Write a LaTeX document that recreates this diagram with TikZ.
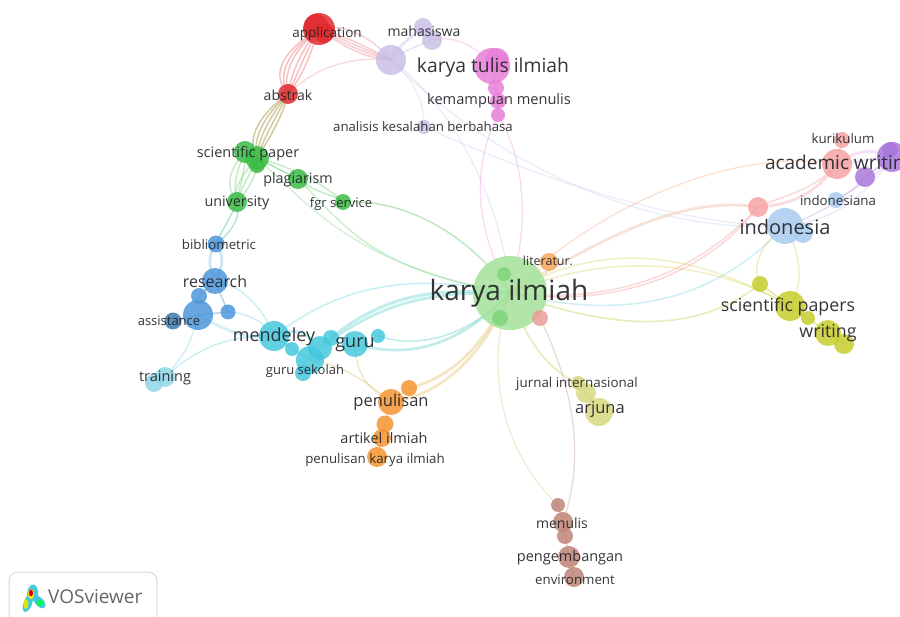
\documentclass[tikz,border=0pt]{standalone}
\usepackage{fontspec}
\setmainfont{Open Sans}
\usetikzlibrary{backgrounds}
\definecolor{cRed}{HTML}{E02B2F}
\definecolor{cLav}{HTML}{C9BEE6}
\definecolor{cMag}{HTML}{E77FD8}
\definecolor{cGrn}{HTML}{3CBB45}
\definecolor{cKar}{HTML}{A4E29A}
\definecolor{cBlu}{HTML}{4C97DA}
\definecolor{cCya}{HTML}{45C8DC}
\definecolor{cSky}{HTML}{8FD6E6}
\definecolor{cOrg}{HTML}{F39431}
\definecolor{cPnk}{HTML}{F4A3A3}
\definecolor{cPur}{HTML}{A878DC}
\definecolor{cLbl}{HTML}{A9CCEE}
\definecolor{cYel}{HTML}{C6CC2C}
\definecolor{cPal}{HTML}{D8D880}
\definecolor{cBrn}{HTML}{C08478}
\definecolor{cTxt}{HTML}{242428}
\tikzset{
  bub/.style={circle,draw=none,inner sep=0pt,fill opacity=.85},
  lab/.style={text=cTxt,inner sep=0pt,text opacity=.92,yshift=-.8pt},
  lnk/.style={line width=1.5pt,draw opacity=.42,line cap=round},
  thk/.style={lnk,line width=2.8pt,draw opacity=.38},
  fnt/.style={lnk,line width=1.3pt,draw opacity=.3},
}
\newcommand{\bb}[5]{\node[bub,fill=#5,minimum size=#4*2pt] (#1) at (#2,#3) {};}
\newcommand{\lb}[5]{\node[lab,font=\fontsize{#4}{#4}\selectfont] (#1) at (#2,#3) {#5};}
\begin{document}
\begin{tikzpicture}[x=1pt,y=-1pt]
\useasboundingbox (0,0) rectangle (900,617);
\clip (0,0) rectangle (900,617);
% bubbles
\bb{app}{319}{29}{16}{cRed}
\bb{apb}{316}{26}{12}{cRed}
\bb{apc}{324}{33}{10}{cRed}
\bb{abs}{288}{94}{10}{cRed}
\bb{lav}{391}{60}{15}{cLav}
\bb{mah}{423}{27}{9}{cLav}
\bb{mab}{432}{40}{10}{cLav}
\bb{ana}{424}{127}{7}{cLav}
\bb{ktl}{492}{66}{18}{cMag}
\bb{ktb}{497}{60}{12}{cMag}
\bb{mga}{496}{88}{8}{cMag}
\bb{kem}{498}{101}{8}{cMag}
\bb{mgb}{498}{115}{7}{cMag}
\bb{spa}{245}{152}{11}{cGrn}
\bb{spb}{257}{158}{12}{cGrn}
\bb{spc}{257}{165}{8}{cGrn}
\bb{plg}{298}{179}{10}{cGrn}
\bb{fgr}{343}{202}{8}{cGrn}
\bb{uni}{237}{202}{10}{cGrn}
\bb{bib}{216}{244}{8.5}{cBlu}
\bb{res}{215}{281}{13}{cBlu}
\bb{bla}{199}{296}{8}{cBlu}
\bb{blb}{198}{315}{15}{cBlu}
\bb{asi}{173}{321}{8.5}{cBlu!80!black}
\bb{blc}{228}{312}{7.5}{cBlu}
\bb{men}{274}{336}{15}{cCya}
\bb{cya}{292}{349}{7}{cCya}
\bb{cyb}{310}{360}{14}{cCya}
\bb{cyc}{320}{348}{12}{cCya}
\bb{cyd}{331}{338}{8}{cCya}
\bb{gse}{303}{373}{8}{cCya}
\bb{gur}{355}{344}{13}{cCya}
\bb{cye}{378}{336}{7}{cCya}
\bb{pen}{391}{402}{13}{cOrg}
\bb{ora}{409}{388}{8}{cOrg}
\bb{orb}{385}{424}{8.5}{cOrg}
\bb{art}{382}{438}{9}{cOrg}
\bb{pki}{377}{457}{10}{cOrg}
\bb{trn}{165}{377}{10}{cSky}
\bb{trb}{154}{383}{9}{cSky}
\bb{kur}{842}{140}{8}{cPnk}
\bb{aca}{837}{164}{15}{cPnk}
\bb{pur}{892}{157}{15}{cPur}
\bb{pub}{890}{150}{8}{cPur}
\bb{prb}{865}{177}{10}{cPur}
\bb{ina}{836}{200}{8}{cLbl}
\bb{pnk}{758}{207}{10}{cPnk}
\bb{ind}{785}{226}{18}{cLbl}
\bb{inb}{803}{233}{10}{cLbl}
\bb{yla}{760}{284}{8}{cYel}
\bb{scp}{790}{306}{15}{cYel}
\bb{ylb}{808}{318}{7}{cYel}
\bb{wri}{828}{333}{13}{cYel}
\bb{ylc}{844}{344}{10}{cYel}
\bb{kar}{510}{293}{37}{cKar}
\bb{kin}{504}{274}{7}{cGrn!35!cKar}
\bb{kib}{500}{318}{8}{cGrn!35!cKar}
\bb{lit}{549}{262}{9}{cOrg!80!white}
\bb{pkr}{540}{318}{8}{cPnk!80!cBrn}
\bb{jur}{578}{383}{7}{cPal}
\bb{jub}{586}{393}{10}{cPal}
\bb{arj}{599}{412}{14}{cPal}
\bb{mna}{558}{505}{7}{cBrn}
\bb{mnl}{563}{522}{10}{cBrn}
\bb{mnb}{565}{536}{8}{cBrn}
\bb{pgb}{569}{557}{11}{cBrn}
\bb{env}{574}{577}{10}{cBrn}
% edges
\begin{pgfonlayer}{background}
\foreach \d in {-22,-14,-7,4,12,20}{
  \draw[lnk,cRed!70!white] (app.center) .. controls (300+\d*.6,48) and (288+\d*.9,72) .. (abs.center);
}
\foreach \d in {-4,0,4,8}{
  \draw[lnk,cRed!55!white] (app.center) .. controls (345,40+\d) and (365,50+\d) .. (lav.center);
}
\draw[lnk,cRed!50!white] (app.center) .. controls (340,22) and (370,35) .. (lav.center);
\draw[fnt,cRed!60!white] (abs.center) .. controls (310,72) and (345,55) .. (lav.center);
\draw[lnk,cLav] (lav.center) .. controls (400,40) and (415,35) .. (mah.center);
\draw[lnk,cLav] (lav.center) .. controls (405,50) and (420,45) .. (mab.center);
\draw[lnk,cLav] (lav.center) .. controls (400,45) and (410,40) .. (mah.center);
\draw[lnk,cMag!60!white] (mab.center) .. controls (455,35) and (475,45) .. (ktl.center);
\draw[lnk,cMag] (ktl.center) -- (mga.center) -- (kem.center) -- (mgb.center);
\draw[fnt,cLav] (lav.center) .. controls (415,80) and (425,105) .. (ana.center);
\draw[fnt,cLav] (lav.center) .. controls (435,90) and (500,180) .. (kar.center);
\draw[fnt,cMag] (mgb.center) .. controls (480,150) and (465,210) .. (kar.center);
\draw[fnt,cMag] (mgb.center) .. controls (525,160) and (530,220) .. (kar.center);
\draw[fnt,cLbl] (lav.center) .. controls (470,140) and (620,235) .. (ind.center);
\draw[fnt,cLav] (ana.center) .. controls (510,165) and (660,225) .. (ind.center);
\foreach \d in {-14,-7,0,7,14}{
  \draw[lnk,cOrg!30!cYel!70!black] (abs.center) .. controls (275+\d*.7,110) and (258+\d,135) .. (spb.center);
}
\foreach \d in {-8,0,8}{
  \draw[lnk,cGrn!70!white] (spa.center) .. controls (238+\d,168) and (232+\d,185) .. (uni.center);
  \draw[lnk,cGrn!70!white] (spb.center) .. controls (250+\d,175) and (240+\d,190) .. (uni.center);
}
\draw[lnk,cGrn] (spb.center) -- (plg.center);
\draw[lnk,cGrn!70!white] (spb.center) .. controls (285,165) and (320,180) .. (fgr.center);
\draw[lnk,cGrn!70!white] (plg.center) .. controls (320,195) and (335,195) .. (fgr.center);
\draw[lnk,cGrn!80!white] (fgr.center) .. controls (405,198) and (470,235) .. (kar.center);
\draw[lnk,cGrn!60!white] (plg.center) .. controls (345,225) and (370,270) .. (kar.center);
\draw[lnk,cGrn!50!white] (spb.center) .. controls (305,200) and (350,265) .. (kar.center);
\draw[lnk,cCya!70!cGrn] (uni.center) .. controls (232,215) and (222,230) .. (bib.center);
\draw[lnk,cCya!70!cGrn] (uni.center) .. controls (242,215) and (232,232) .. (bib.center);
\draw[thk,cBlu!70!white] (bib.center) .. controls (208,255) and (208,265) .. (res.center);
\draw[thk,cBlu!70!white] (bib.center) .. controls (224,255) and (224,265) .. (res.center);
\draw[lnk,cBlu] (res.center) -- (bla.center);
\draw[lnk,cBlu] (res.center) -- (blc.center);
\draw[lnk,cBlu] (blb.center) -- (asi.center);
\draw[lnk,cBlu] (blb.center) -- (blc.center);
\draw[lnk,cSky] (res.center) .. controls (240,285) and (262,305) .. (men.center);
\draw[lnk,cSky] (blc.center) .. controls (240,312) and (262,318) .. (men.center);
\draw[thk,cSky] (blb.center) .. controls (225,330) and (245,340) .. (men.center);
\draw[lnk,cSky] (blb.center) .. controls (192,345) and (180,360) .. (trn.center);
\draw[lnk,cSky] (trn.center) .. controls (195,350) and (225,335) .. (men.center);
\draw[lnk,cCya] (men.center) -- (cyb.center);
\draw[thk,cCya] (men.center) .. controls (300,325) and (320,335) .. (cyb.center);
\draw[lnk,cCya!70!white] (men.center) .. controls (335,290) and (400,270) .. (kar.center);
\draw[thk,cCya!70!cKar,line width=3.2pt] (cyd.center) .. controls (385,295) and (430,288) .. (kar.center);
\draw[thk,cCya!70!cKar] (cyc.center) .. controls (385,300) and (430,292) .. (kar.center);
\draw[thk,cCya!70!cKar] (gur.center) .. controls (410,360) and (460,345) .. (kar.center);
\draw[lnk,cCya!70!cKar] (cye.center) .. controls (420,350) and (470,335) .. (kar.center);
\draw[lnk,cPal!80!cOrg] (gur.center) .. controls (355,375) and (370,390) .. (pen.center);
\draw[lnk,cPal!80!cOrg] (cyb.center) .. controls (345,365) and (370,385) .. (pen.center);
\draw[thk,cOrg!40!cPal] (ora.center) .. controls (450,378) and (480,350) .. (kar.center);
\draw[thk,cOrg!40!cPal] (pen.center) .. controls (440,395) and (480,360) .. (kar.center);
\draw[lnk,cOrg] (pen.center) -- (orb.center) -- (art.center) -- (pki.center);
\draw[lnk,cOrg!60!white] (pen.center) -- (ora.center);
\draw[lnk,cYel!60!cKar] (kar.center) .. controls (525,340) and (550,372) .. (jur.center);
\draw[lnk,cYel!60!cKar] (jur.center) -- (jub.center) -- (arj.center);
\draw[fnt,cBrn] (pkr.center) .. controls (575,390) and (585,460) .. (mnl.center);
\draw[fnt,cOrg!40!cKar] (kar.center) .. controls (480,380) and (510,460) .. (mna.center);
\draw[lnk,cBrn] (mna.center) -- (mnl.center) -- (mnb.center) -- (pgb.center) -- (env.center);
\draw[lnk,cOrg!60!white] (kar.center) -- (lit.center);
\draw[lnk,cYel!70!cKar] (kar.center) .. controls (600,325) and (690,340) .. (yla.center);
\draw[lnk,cYel!70!white] (kar.center) .. controls (600,240) and (690,250) .. (scp.center);
\draw[lnk,cYel!70!white] (kar.center) .. controls (600,255) and (700,255) .. (scp.center);
\draw[thk,cPnk!70!cPal] (kar.center) .. controls (600,240) and (680,195) .. (pnk.center);
\draw[lnk,cPnk] (kar.center) .. controls (620,305) and (700,270) .. (pnk.center);
\draw[lnk,cPnk] (kar.center) .. controls (620,310) and (710,270) .. (pnk.center);
\draw[fnt,cOrg!60!cPnk] (kar.center) .. controls (580,220) and (720,145) .. (aca.center);
\draw[lnk,cSky] (kar.center) .. controls (620,320) and (710,305) .. (ind.center);
\draw[thk,cPnk] (pnk.center) .. controls (790,205) and (815,195) .. (aca.center);
\draw[lnk,cPnk] (pnk.center) .. controls (785,195) and (815,190) .. (aca.center);
\draw[lnk,cPnk] (kur.center) -- (aca.center);
\draw[thk,cMag!50!cPur!60!white] (aca.center) .. controls (855,150) and (875,148) .. (pur.center);
\draw[lnk,cPur!60!white] (aca.center) .. controls (855,165) and (875,155) .. (pur.center);
\draw[lnk,cPur] (prb.center) -- (pur.center);
\draw[lnk,cPur!60!white] (ina.center) .. controls (850,190) and (875,180) .. (pur.center);
\draw[lnk,cPur!60!white] (ind.center) .. controls (820,215) and (850,195) .. (prb.center);
\draw[lnk,cPur!40!white] (ind.center) .. controls (825,222) and (860,205) .. (pur.center);
\draw[lnk,cPal] (ind.center) .. controls (758,245) and (752,270) .. (yla.center);
\draw[lnk,cPal] (ind.center) .. controls (800,250) and (805,285) .. (scp.center);
\draw[lnk,cYel] (yla.center) -- (scp.center) -- (ylb.center) -- (wri.center) -- (ylc.center);
\end{pgfonlayer}
% labels
\lb{Lkar}{509}{292}{28}{karya ilmiah}
\lb{Lktl}{493}{67}{19.3}{karya tulis ilmiah}
\lb{Laca}{840}{164}{19}{academic writing}
\lb{Lind}{785}{226}{20}{indonesia}
\lb{Lscp}{788}{306}{17.8}{scientific papers}
\lb{Lwri}{828}{332}{17.8}{writing}
\lb{Lmen}{274}{336}{18}{mendeley}
\lb{Lgur}{355}{344}{18}{guru}
\lb{Lres}{215}{281}{16}{research}
\lb{Lpen}{391}{401}{16.5}{penulisan}
\lb{Larj}{600}{409}{16.5}{arjuna}
\lb{Lmah}{424}{30}{14}{mahasiswa}
\lb{Lapp}{327}{33}{13.5}{application}
\lb{Labs}{288}{94}{14}{abstrak}
\lb{Lspa}{248}{153}{14.5}{scientific paper}
\lb{Lplg}{298}{179}{14.3}{plagiarism}
\lb{Luni}{237}{202}{14.3}{university}
\lb{Lfgr}{341}{203}{13}{fgr service}
\lb{Lbib}{219}{244}{13.3}{bibliometric}
\lb{Lasi}{169}{320}{13}{assistance}
\lb{Ltrn}{165}{377}{14.5}{training}
\lb{Lgse}{305}{370}{13}{guru sekolah}
\lb{Lart}{384}{437}{14.5}{artikel ilmiah}
\lb{Lpki}{375}{459}{13.3}{penulisan karya ilmiah}
\lb{Lkem}{499}{100}{14.6}{kemampuan menulis}
\lb{Lana}{423}{126}{13.2}{analisis kesalahan berbahasa}
\lb{Llit}{548}{260}{12.5}{literatur.}
\lb{Ljur}{577}{383}{13.4}{jurnal internasional}
\lb{Lkur}{843}{138}{13.3}{kurikulum}
\lb{Lina}{838}{200}{13.3}{indonesiana}
\lb{Lmnl}{562}{522}{14}{menulis}
\lb{Lpgb}{570}{557}{14.5}{pengembangan}
\lb{Lenv}{575}{579}{13.3}{environment}
% logo box
\draw[draw=black!15,line width=1pt,rounded corners=9pt,fill=white] (9,572) rectangle (157,630);
\fill[cCya] (31,585) .. controls (36,582) and (39,590) .. (38,596) .. controls (44,598) and (48,606) .. (44,608) .. controls (39,610) and (35,603) .. (33,600) .. controls (32,606) and (29,612) .. (25,612) .. controls (21,612) and (23,600) .. (27,596) .. controls (27,592) and (28,587) .. (31,585) -- cycle;
\fill[yellow!85!green] (26,604) ellipse (2.5pt and 5pt);
\fill[green!70!cyan] (40,603) ellipse (3.5pt and 3pt);
\fill[yellow] (31,594) ellipse (3pt and 5pt);
\fill[red!85!black] (31,593) ellipse (2pt and 3.5pt);
\node[lab,font=\fontsize{19}{19}\selectfont,text=black!65,anchor=west,yshift=1pt] (Lvos) at (48,597) {VOSviewer};
\end{tikzpicture}
\end{document}
